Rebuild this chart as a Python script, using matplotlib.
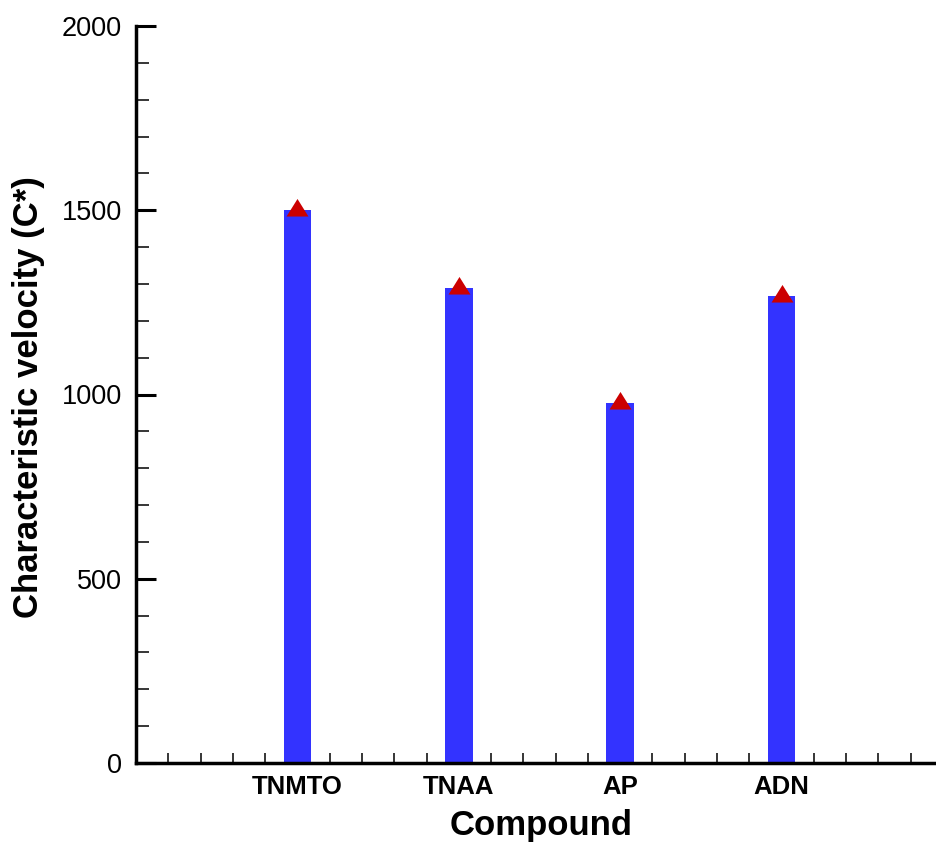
import matplotlib
matplotlib.use("Agg")
import matplotlib.pyplot as plt
from matplotlib.ticker import MultipleLocator

plt.rcParams['font.family'] = ['Liberation Sans', 'DejaVu Sans']

compounds = ["TNMTO", "TNAA", "AP", "ADN"]
c_star = [1500, 1290, 976, 1268]
positions = [1, 2, 3, 4]

W, H = 937, 848
fig = plt.figure(figsize=(W / 100, H / 100), dpi=100)
left, right, bottom, top = 136, 943, 85, 822
ax = fig.add_axes([left / W, bottom / H, (right - left) / W, (top - bottom) / H])

ax.bar(positions, c_star, width=0.172, color="#3333ff", zorder=2)

# triangle marker sitting on top of each bar
tri = [(-1, -0.55), (1, -0.55), (0, 1.05), (-1, -0.55)]
ax.plot(positions, c_star, linestyle="none", marker=tri, markersize=16.6,
        color="#cc0000", markeredgewidth=0, zorder=3)

ax.set_xlim(0, 5)
ax.set_ylim(0, 2000)

for s in ("top", "right"):
    ax.spines[s].set_visible(False)
for s in ("left", "bottom"):
    ax.spines[s].set_linewidth(2.5)

ax.yaxis.set_major_locator(MultipleLocator(500))
ax.yaxis.set_minor_locator(MultipleLocator(100))
ax.set_xticks(positions)
ax.set_xticklabels(compounds, fontsize=18.5, fontweight="bold")
ax.xaxis.set_minor_locator(MultipleLocator(0.2))

ax.tick_params(axis="y", which="major", direction="in", length=14.5, width=2.2,
               labelsize=19.5, pad=10)
ax.tick_params(axis="y", which="minor", direction="in", length=9.5, width=1.1)
ax.tick_params(axis="x", which="major", direction="in", length=14, width=2.2, pad=8.5)
ax.tick_params(axis="x", which="minor", direction="in", length=7.5, width=1.1)

ax.set_xlabel("Compound", fontsize=25, fontweight="bold")
ax.set_ylabel("Characteristic velocity (C*)", fontsize=25, fontweight="bold")
ax.xaxis.set_label_coords((541.5 - left) / (right - left), -0.063)
ax.yaxis.set_label_coords((45 - left) / (right - left), 0.496)

fig.savefig("out.png", dpi=100)
